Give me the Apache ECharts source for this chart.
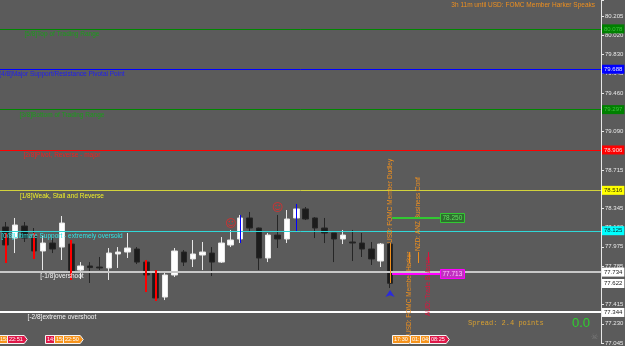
<!DOCTYPE html>
<html><head><meta charset="utf-8">
<script src="https://cdn.jsdelivr.net/npm/echarts@6/dist/echarts.min.js"></script>
<style>html,body{margin:0;padding:0;background:#5b5b5b;}#c{width:625px;height:346px;}</style>
</head><body><div id="c"></div>
<script>
// ---------- data ----------
const categories = Array.from({length: 65}, (_, i) => 'bar' + i);
const open  = [78.185,78.166,78.059,78.175,78.079,77.934,78.011,77.972,78.001,77.750,77.789,77.779,77.770,77.905,77.924,77.953,77.827,77.721,77.489,77.702,77.924,77.857,77.895,77.914,77.827,77.992,78.050,78.253,78.156,77.866,78.088,78.050,78.253,78.340,78.253,78.156,78.108,78.050,78.021,78.011,77.953,77.837,78.001];
const close = [78.117,77.992,78.185,78.059,77.934,78.011,77.953,78.204,77.741,77.789,77.774,77.770,77.914,77.924,77.963,77.827,77.702,77.480,77.702,77.934,77.827,77.905,77.924,77.827,78.011,78.040,78.253,78.156,77.866,78.088,78.050,78.243,78.340,78.243,78.156,78.108,78.050,78.088,78.011,77.953,77.857,78.001,77.622];
const high  = [78.214,78.214,78.253,78.214,78.156,78.079,78.059,78.272,78.040,77.827,77.827,77.876,77.963,77.972,78.108,77.972,77.847,77.750,77.731,77.963,77.943,78.040,78.021,77.972,78.069,78.137,78.282,78.311,78.160,78.108,78.282,78.330,78.388,78.359,78.262,78.253,78.108,78.137,78.137,78.108,78.021,78.011,78.011];
const low   = [78.088,77.818,77.914,78.021,77.857,77.750,77.914,77.847,77.654,77.663,77.625,77.750,77.654,77.770,77.866,77.808,77.538,77.451,77.460,77.683,77.789,77.779,77.750,77.692,77.818,77.972,78.011,78.117,77.750,77.827,77.963,78.011,78.127,78.233,78.059,78.011,77.827,78.001,77.837,77.876,77.799,77.779,77.576];

const yTickLabels = ['77.045','77.230','77.415','77.600','77.785','77.975','78.160','78.345','78.530','78.715','78.905','79.090','79.275','79.460','79.645','79.830','80.020','80.205'];

const levelValues = [80.078, 79.688, 79.297, 78.906, 78.516, 78.125, 77.734, 77.344];
const levelNames = ['[5/8]Top of Trading Range','[4/8]Major Support/Resistance Pivotal Point','[3/8]Bottom of Trading Range','[2/8]Pivot, Reverse - major','[1/8]Weak, Stall and Reverse','[0/8]Ultimate Support - extremely oversold','[-1/8]overshoot','[-2/8]extreme overshoot'];
const levelLabelBar = 7;
const bidPrice = 77.622;

// indicator bars (bar index, low, high)
const redBarIdx = [1, 4, 8, 16, 17];
const redBarLow = [77.818, 77.857, 77.654, 77.538, 77.451];
const redBarHigh = [78.108, 78.108, 78.040, 77.847, 77.750];
const blueBarIdx = [26, 32];
const blueBarLow = [78.011, 78.127];
const blueBarHigh = [78.282, 78.388];

const smileIdx = [25, 30];
const smilePrice = [78.195, 78.349];
const arrowIdx = [42];
const arrowPrice = [77.557];

// news events
const eventIdx = [42, 44, 45, 46];
const eventText = ['USD: FOMC Member Dudley', 'USD: FOMC Member Harker', 'NZD: ANZ Business Conf', 'AUD: Trade Balance'];
const eventTextBase = [78.011, 77.122, 77.934, 77.306];
const eventLineLow = [77.625, 77.818, 77.818, 77.818];
const eventLineHigh = [78.011, 77.924, 77.924, 77.924];

// time tags at the bottom
const tagIdx = [0, 1, 5, 6, 7, 42, 44, 45, 46];
const tagText = ['15:', '22:51', '14:', '15:', '22:50', '17:30', '01:', '04:', '08:25'];

// price marks
const priceMarkFrom = [42, 42];
const priceMarkTo = [47, 47];
const priceMarkValue = [78.250, 77.713];

const countdownText = '3h 11m until USD: FOMC Member Harker Speaks';
const spreadText = 'Spread: 2.4 points';
const pnlText = '0.0';

// ---------- styles ----------
const FONT = '"Liberation Sans", Arial, sans-serif';
const lvlLine = ['#008800','#0000ff','#008800','#ff0000','#d2d23c','#30d8d8','#c8c8c8','#ffffff'];
const lvlWidth = [1,1,1,1,1,1,2,2];
const lvlText = ['#1c9c1c','#2020f0','#1c9c1c','#f02020','#f0f028','#30e6e6','#f4f4f4','#f4f4f4'];
const lvlBoxBg = ['#008000','#0000ff','#008000','#ff0000','#ffff00','#00ffff','#ffffff','#ffffff'];
const lvlBoxFg = ['#40c040','#e0e0ff','#40c040','#ffe0e0','#303000','#003030','#202020','#202020'];
const tagColor = ['#f7941d','#e0194a','#e0194a','#f7941d','#f7941d','#f7941d','#f7941d','#f7941d','#e0194a'];
const eventColor = ['#f0901e','#f0901e','#f0901e','#dc143c'];
const priceMarkColor = ['#32c832','#ff00ff'];
const priceMarkBg = ['#2e6e2e','#c030c0'];
const priceMarkFg = ['#60e060','#ffc0ff'];

const yMin = 77.045, yMax = 80.359, yStep = 3.16 / 17;

const ctx = document.createElement('canvas').getContext('2d');
function textW(t, font) { ctx.font = font; return ctx.measureText(t).width; }
function crisp(y, w) { return (w % 2 === 1) ? Math.round(y - 0.5) + 0.5 : Math.round(y); }

const chart = echarts.init(document.getElementById('c'));
const candles = open.map((o, i) => [o, close[i], low[i], high[i]]);
const boxLabel = (txt, bg, fg) => ({ show: true, position: 'end', distance: 1, formatter: txt, backgroundColor: bg, color: fg, padding: [2, 2, 1, 2], fontSize: 6, fontFamily: FONT });

const option = {
  animation: false,
  backgroundColor: '#5b5b5b',
  grid: { left: -8.4, right: 24, top: 0, bottom: 3, containLabel: false, outerBoundsMode: 'none' },
  xAxis: { type: 'category', data: categories, boundaryGap: true, show: false },
  yAxis: {
    type: 'value', position: 'right', min: yMin, max: yMax, interval: yStep, scale: true,
    axisLine: { show: true, lineStyle: { color: '#e8e8e8', width: 1 } },
    axisTick: { show: true, length: 3, lineStyle: { color: '#e8e8e8' } },
    splitLine: { show: false },
    axisLabel: {
      margin: 4, color: '#e8e8e8', fontSize: 6, fontFamily: FONT, showMaxLabel: true,
      formatter: v => { const k = Math.round((v - yMin) / yStep); return yTickLabels[k] || ''; }
    }
  },
  series: [
    {
      type: 'candlestick', data: candles, barWidth: 6, z: 2,
      itemStyle: { color: '#ffffff', color0: '#1c1c1c', borderColor: '#e8e8e8', borderColor0: '#262626', borderWidth: 1 },
      markLine: {
        silent: true, symbol: ['none', 'none'], animation: false, z: 8,
        lineStyle: { color: 'rgba(0,0,0,0)', width: 1 },
        data: levelValues.map((v, i) => ({
          yAxis: v, lineStyle: { color: 'rgba(0,0,0,0)' },
          label: boxLabel(v.toFixed(3), lvlBoxBg[i], lvlBoxFg[i])
        })).concat([{
          yAxis: bidPrice, lineStyle: { color: 'rgba(0,0,0,0)' },
          label: boxLabel(bidPrice.toFixed(3), '#ffffff', '#202020')
        }])
      }
    },
    {
      // Murrey math level lines
      type: 'custom', silent: true, z: 3,
      data: levelValues.map(v => [0, v]),
      encode: { x: 0, y: 1 },
      renderItem: (params, api) => {
        const i = params.dataIndex;
        const cs = params.coordSys;
        const p = api.coord([0, api.value(1)]);
        const y = crisp(p[1], lvlWidth[i]);
        return { type: 'line', shape: { x1: Math.max(cs.x, 0), y1: y, x2: cs.x + cs.width, y2: y }, style: { stroke: lvlLine[i], lineWidth: lvlWidth[i] } };
      }
    },
    {
      type: 'custom', silent: true, z: 4,
      data: redBarIdx.map((x, i) => [x, redBarLow[i], redBarHigh[i], 0]).concat(blueBarIdx.map((x, i) => [x, blueBarLow[i], blueBarHigh[i], 1])),
      encode: { x: 0, y: [1, 2] },
      renderItem: (params, api) => {
        const a = api.coord([api.value(0), api.value(1)]);
        const b = api.coord([api.value(0), api.value(2)]);
        const blue = api.value(3) === 1;
        const x = Math.round(a[0]) + (blue ? 0.5 : 0);
        return { type: 'line', shape: { x1: x, y1: a[1], x2: x, y2: b[1] }, style: { stroke: blue ? '#0000ff' : '#ff0000', lineWidth: blue ? 1 : 2 } };
      }
    },
    {
      type: 'custom', silent: true, z: 5,
      data: levelValues.map(v => [levelLabelBar, v]),
      encode: { x: 0, y: 1 },
      renderItem: (params, api) => {
        const i = params.dataIndex;
        const p = api.coord([api.value(0), api.value(1)]);
        return { type: 'text', x: p[0], y: p[1] + 1.5, style: { text: levelNames[i], fill: lvlText[i], font: '6.5px ' + FONT, align: 'center', verticalAlign: 'top' } };
      }
    },
    {
      type: 'custom', silent: true, z: 5,
      data: eventIdx.map((x, i) => [x, eventTextBase[i], eventLineLow[i], eventLineHigh[i]]),
      encode: { x: 0, y: 1 },
      renderItem: (params, api) => {
        const i = params.dataIndex;
        const t = api.coord([api.value(0), api.value(1)]);
        const a = api.coord([api.value(0), api.value(2)]);
        const b = api.coord([api.value(0), api.value(3)]);
        const x = Math.round(a[0]) + 0.5;
        return { type: 'group', children: [
          { type: 'line', shape: { x1: x, y1: a[1], x2: x, y2: b[1] }, style: { stroke: eventColor[i], lineWidth: 1 } },
          { type: 'text', x: t[0] + 0.5, y: t[1], rotation: Math.PI / 2, style: { text: eventText[i], fill: eventColor[i], font: '6.5px ' + FONT, align: 'left', verticalAlign: 'middle' } }
        ] };
      }
    },
    {
      type: 'custom', silent: true, z: 6,
      data: tagIdx.map(x => [x, yMin]),
      encode: { x: 0, y: 1 },
      renderItem: (params, api) => {
        const i = params.dataIndex;
        const p = api.coord([api.value(0), api.value(1)]);
        const font = '5.5px ' + FONT;
        const w = textW(tagText[i], font) + 3;
        const x0 = Math.round(p[0] + 1.5) + 0.5, bot = p[1] + 0.5, top = bot - 8, mid = (top + bot) / 2;
        return { type: 'group', children: [
          { type: 'polygon', shape: { points: [[x0, top], [x0 + w, top], [x0 + w + 3, mid], [x0 + w, bot], [x0, bot]] }, style: { fill: tagColor[i], stroke: '#f4f4f4', lineWidth: 1 } },
          { type: 'text', x: x0 + 1.5, y: mid, style: { text: tagText[i], fill: '#ffffff', font: font, align: 'left', verticalAlign: 'middle' } }
        ] };
      }
    },
    {
      type: 'custom', silent: true, z: 6,
      data: priceMarkValue.map((v, i) => [priceMarkFrom[i], priceMarkTo[i], v]),
      encode: { x: [0, 1], y: 2 },
      renderItem: (params, api) => {
        const i = params.dataIndex;
        const a = api.coord([api.value(0), api.value(2)]);
        const b = api.coord([api.value(1), api.value(2)]);
        const txt = api.value(2).toFixed(3);
        const font = '6.5px ' + FONT;
        const w = textW(txt, font) + 4;
        const y = Math.round(a[1]);
        return { type: 'group', children: [
          { type: 'line', shape: { x1: a[0] + 2, y1: y, x2: b[0] + 3, y2: y }, style: { stroke: priceMarkColor[i], lineWidth: 2 } },
          { type: 'rect', shape: { x: Math.round(b[0] + 3) + 0.5, y: y - 4.5, width: Math.round(w), height: 9 }, style: { fill: priceMarkBg[i], stroke: priceMarkColor[i], lineWidth: 1 } },
          { type: 'text', x: b[0] + 5.5, y: y, style: { text: txt, fill: priceMarkFg[i], font: font, align: 'left', verticalAlign: 'middle' } }
        ] };
      }
    },
    {
      type: 'scatter', silent: true, z: 7,
      data: smileIdx.map((x, i) => [x, smilePrice[i]]),
      symbolSize: 0,
      label: { show: true, formatter: '\u263A', position: 'inside', color: '#ff2020', fontSize: 11, fontFamily: '"DejaVu Sans"' }
    },
    {
      type: 'scatter', silent: true, z: 7,
      data: arrowIdx.map((x, i) => [x, arrowPrice[i]]),
      symbol: 'arrow', symbolSize: [7, 7], itemStyle: { color: '#1e1eff' }
    }
  ],
  graphic: [
    { type: 'text', right: 30, top: 2, style: { text: countdownText, fill: '#f0901e', font: '6.5px ' + FONT } },
    { type: 'text', left: 468, top: 320, style: { text: spreadText, fill: '#d8a030', font: '7px "Liberation Mono", monospace' } },
    { type: 'text', left: 572, top: 317, style: { text: pnlText, fill: '#2ed02e', font: '13px ' + FONT } },
    { type: 'text', left: 591, top: 333, style: { text: '\u2620', fill: '#7a7a7a', font: '8px "DejaVu Sans"' } }
  ]
};
chart.setOption(option);
</script></body></html>
